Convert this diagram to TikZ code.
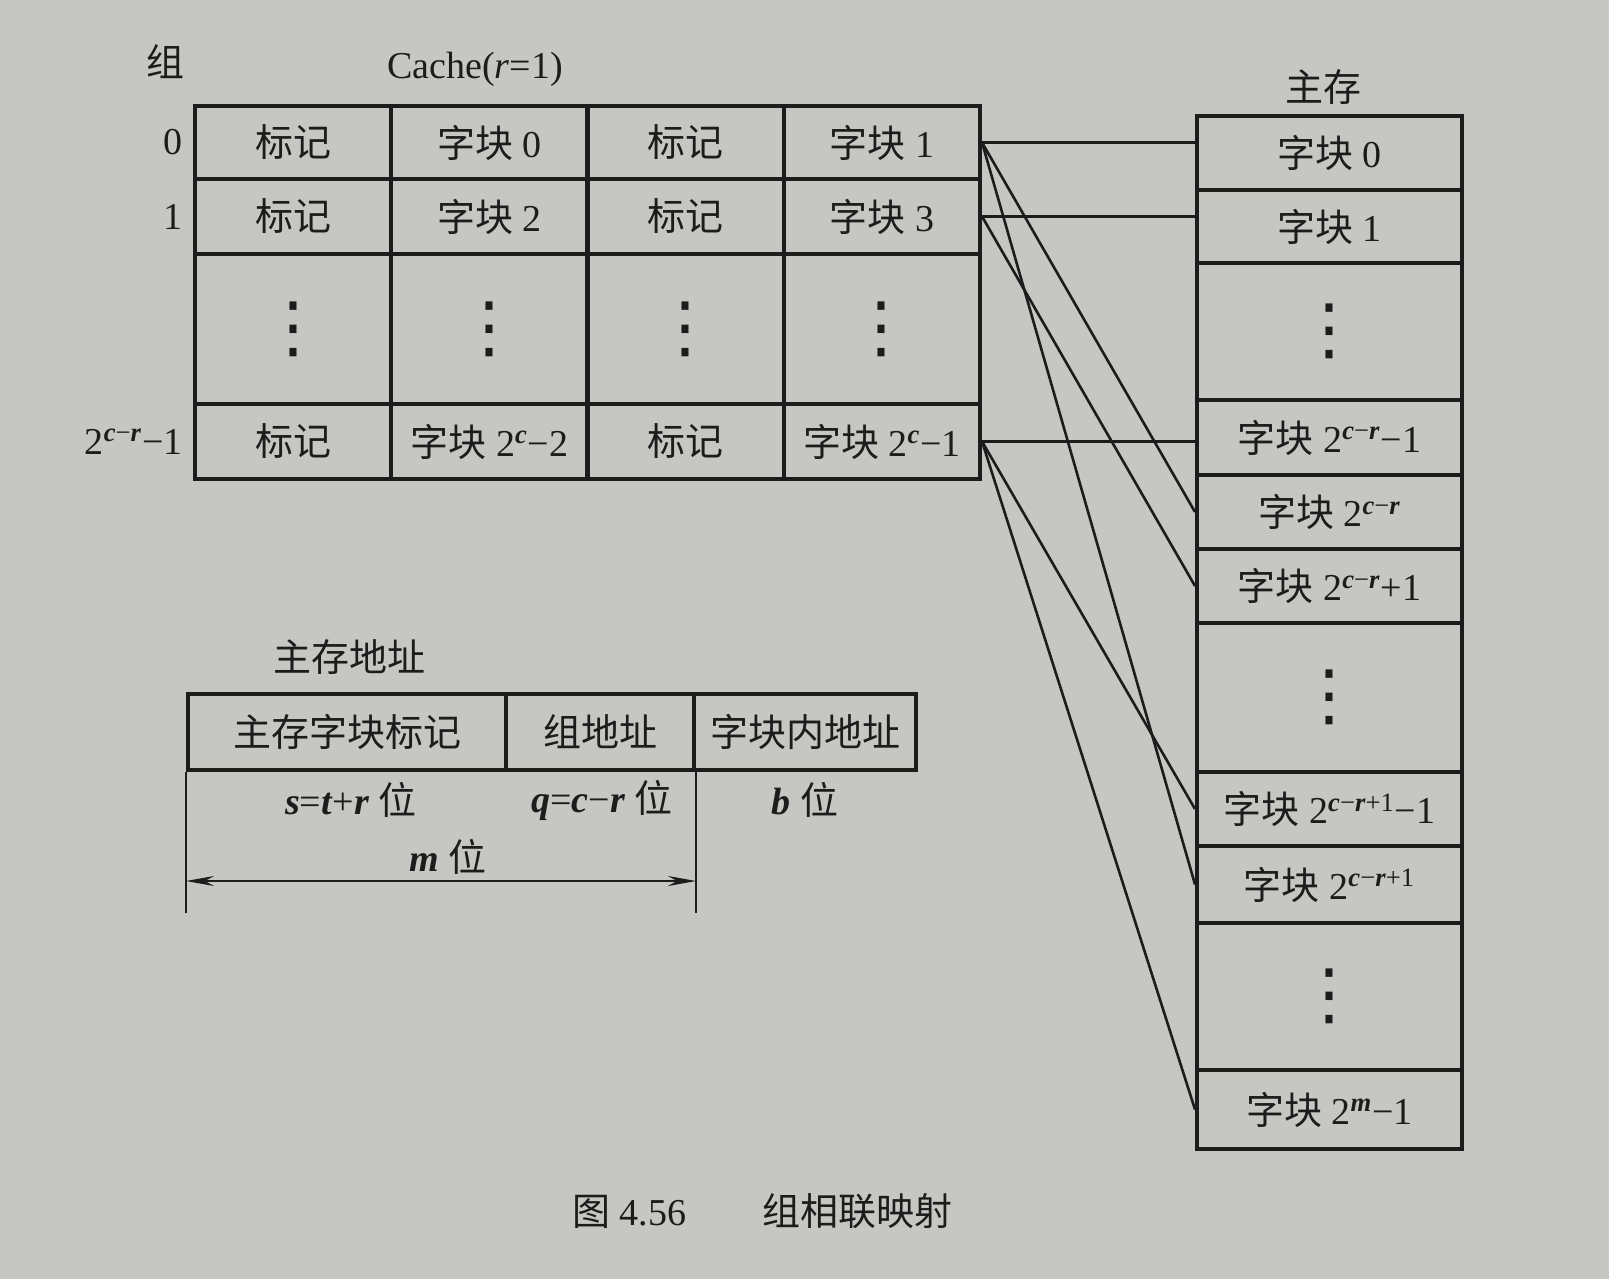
\documentclass[tikz,border=0pt]{standalone}
\usepackage{fontspec}
\setmainfont{Liberation Serif}
\newfontfamily\cjk{Noto Sans CJK SC}
\newfontfamily\dv{DejaVu Sans}
\usetikzlibrary{arrows.meta}
\definecolor{paper}{RGB}{198,198,195}
\definecolor{ink}{RGB}{28,28,28}
\newcommand{\zk}{{\cjk 字块}~}
\newcommand{\bj}{{\cjk 标记}}
\newcommand{\wei}{~{\cjk 位}}
\newcommand{\up}[1]{\textsuperscript{#1}}
\newcommand{\vd}{{\dv\fontsize{34}{34}\selectfont ⋮}}
\newcommand{\bi}[1]{\textbf{\textit{#1}}}
\tikzset{
  txt/.style={font=\fontsize{19}{21}\selectfont, text=ink, inner sep=1pt},
  cell/.style 2 args={draw=ink, line width=2pt, inner sep=0pt, minimum width=#1, minimum height=#2, font=\fontsize{19}{21}\selectfont, text=ink},
  conn/.style={draw=ink, line width=1.3pt},
  ext/.style={draw=ink, line width=1.2pt},
  dim/.style={draw=ink, line width=1.2pt, {Stealth[length=14pt,width=5pt]}-{Stealth[length=14pt,width=5pt]}}
}
\begin{document}
\begin{tikzpicture}[x=0.5pt,y=-0.5pt]
\fill[paper] (0,0) rectangle (1609,1279);
\useasboundingbox (0,0) rectangle (1609,1279);

% ---- cache ----
\node[cell={98.125pt}{36.5pt}] (k00) at (293.1,142.5) {\bj};
\node[cell={98.125pt}{36.5pt}] (k01) at (489.4,142.5) {\zk 0};
\node[cell={98.125pt}{36.5pt}] (k02) at (685.6,142.5) {\bj};
\node[cell={98.125pt}{36.5pt}] (k03) at (881.9,142.5) {\zk 1};
\node[cell={98.125pt}{37.5pt}] (k10) at (293.1,216.5) {\bj};
\node[cell={98.125pt}{37.5pt}] (k11) at (489.4,216.5) {\zk 2};
\node[cell={98.125pt}{37.5pt}] (k12) at (685.6,216.5) {\bj};
\node[cell={98.125pt}{37.5pt}] (k13) at (881.9,216.5) {\zk 3};
\node[cell={98.125pt}{75pt}] (k20) at (293.1,329) {\vd};
\node[cell={98.125pt}{75pt}] (k21) at (489.4,329) {\vd};
\node[cell={98.125pt}{75pt}] (k22) at (685.6,329) {\vd};
\node[cell={98.125pt}{75pt}] (k23) at (881.9,329) {\vd};
\node[cell={98.125pt}{37.5pt}] (k30) at (293.1,441.5) {\bj};
\node[cell={98.125pt}{37.5pt}] (k31) at (489.4,441.5) {\zk 2\up{\bi{c}}−2};
\node[cell={98.125pt}{37.5pt}] (k32) at (685.6,441.5) {\bj};
\node[cell={98.125pt}{37.5pt}] (k33) at (881.9,441.5) {\zk 2\up{\bi{c}}−1};

\node[txt] (zu) at (165,62) {{\cjk 组}};
\node[txt] (cachet) at (475,69) {Cache(\textit{r}=1)};
\node[txt, anchor=east] (r0) at ([xshift=-4pt]k00.west) {0};
\node[txt, anchor=east] (r1) at ([xshift=-4pt]k10.west) {1};
\node[txt, anchor=east] (r3) at ([xshift=-4pt]k30.west) {2\up{\bi{c}−\bi{r}}−1};

% ---- main memory ----
\node[txt] (zc) at (1323,87) {{\cjk 主存}};
\node[cell={132.5pt}{37pt}] (m0) at (1329.5,153) {\zk 0};
\node[cell={132.5pt}{36.5pt}] (m1) at (1329.5,226.5) {\zk 1};
\node[cell={132.5pt}{68.5pt}] (md1) at (1329.5,331.5) {\vd};
\node[cell={132.5pt}{37.5pt}] (m2) at (1329.5,437.5) {\zk 2\up{\bi{c}−\bi{r}}−1};
\node[cell={132.5pt}{37pt}] (m3) at (1329.5,512) {\zk 2\up{\bi{c}−\bi{r}}};
\node[cell={132.5pt}{37pt}] (m4) at (1329.5,586) {\zk 2\up{\bi{c}−\bi{r}}+1};
\node[cell={132.5pt}{74.5pt}] (md2) at (1329.5,697.5) {\vd};
\node[cell={132.5pt}{37pt}] (m5) at (1329.5,809) {\zk 2\up{\bi{c}−\bi{r}+1}−1};
\node[cell={132.5pt}{38.5pt}] (m6) at (1329.5,884.5) {\zk 2\up{\bi{c}−\bi{r}+1}};
\node[cell={132.5pt}{73.5pt}] (md3) at (1329.5,996.5) {\vd};
\node[cell={132.5pt}{39.5pt}] (m7) at (1329.5,1109.5) {\zk 2\up{\bi{m}}−1};

% ---- connectors ----
\draw[conn] (k03.east) -- (k03.east -| m0.west);
\draw[conn] (k03.east) -- (m3.west);
\draw[conn] (k03.east) -- (m6.west);
\draw[conn] (k13.east) -- (k13.east -| m1.west);
\draw[conn] (k13.east) -- (m4.west);
\draw[conn] (k33.east) -- (k33.east -| m2.west);
\draw[conn] (k33.east) -- (m5.west);
\draw[conn] (k33.east) -- (m7.west);

% ---- address ----
\node[txt] (addr) at (349,657) {{\cjk 主存地址}};
\node[cell={159pt}{38pt}] (a1) at (347,732) {{\cjk 主存字块标记}};
\node[cell={94pt}{38pt}] (a2) at (600,732) {{\cjk 组地址}};
\node[cell={111pt}{38pt}] (a3) at (805,732) {{\cjk 字块内地址}};
\coordinate (e1) at ([yshift=-70.5pt]a1.south west);
\coordinate (e2) at ([yshift=-70.5pt]a2.south east);
\draw[ext] (a1.south west) -- (e1);
\draw[ext] (a2.south east) -- (e2);
\draw[dim] ([yshift=16pt]e1) -- ([yshift=16pt]e2);
\node[txt] (ls) at (351,800) {\bi{s}=\bi{t}+\bi{r}\wei};
\node[txt] (lq) at (602,800) {\bi{q}=\bi{c}−\bi{r}\wei};
\node[txt] (lb) at (805,800) {\bi{b}\wei};
\node[txt] (lm) at (448,857) {\bi{m}\wei};

% ---- caption ----
\node[txt] (cap) at (762,1211) {{\cjk 图}~4.56\quad\quad{\cjk 组相联映射}};
\end{tikzpicture}
\end{document}
